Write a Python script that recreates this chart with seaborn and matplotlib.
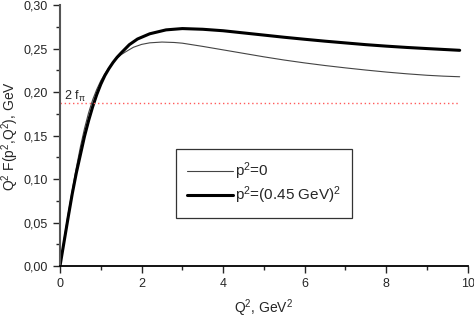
import pandas as pd
import matplotlib
matplotlib.use("Agg")
import matplotlib.pyplot as plt
import seaborn as sns
from matplotlib.ticker import MultipleLocator, FuncFormatter

# Q^2 F(p^2, Q^2) vs Q^2
q2_p0 = [0, 0.1, 0.2, 0.3, 0.4, 0.5, 0.6, 0.7, 0.8, 0.9, 1.0, 1.1, 1.2, 1.3,
         1.4, 1.5, 1.6, 1.8, 2.0, 2.2, 2.5, 2.8, 3.0, 3.5, 4.0, 4.5, 5.0,
         5.5, 6.0, 6.5, 7.0, 7.5, 8.0, 8.5, 9.0, 9.4, 9.8]
f_p0 = [0, 0.031, 0.060, 0.087, 0.113, 0.137, 0.158, 0.176, 0.191, 0.203,
        0.213, 0.221, 0.228, 0.234, 0.239, 0.243, 0.246, 0.2515, 0.2548,
        0.2566, 0.2575, 0.257, 0.2562, 0.2525, 0.2485, 0.2445, 0.2405,
        0.2368, 0.2335, 0.2305, 0.2278, 0.2253, 0.223, 0.221, 0.2193,
        0.2183, 0.2176]

q2_p045 = [0, 0.1, 0.2, 0.3, 0.4, 0.5, 0.6, 0.7, 0.8, 0.9, 1.0, 1.1, 1.2,
           1.3, 1.4, 1.5, 1.7, 1.9, 2.2, 2.6, 3.0, 3.5, 4.0, 4.5, 5.0, 5.5,
           6.0, 6.5, 7.0, 7.5, 8.0, 8.5, 9.0, 9.4, 9.8]
f_p045 = [0, 0.028, 0.056, 0.083, 0.107, 0.128, 0.149, 0.167, 0.183, 0.197,
          0.209, 0.219, 0.227, 0.234, 0.240, 0.245, 0.2545, 0.261, 0.267,
          0.2715, 0.273, 0.2722, 0.2705, 0.268, 0.2655, 0.263, 0.2607,
          0.2585, 0.2565, 0.2545, 0.2528, 0.2513, 0.250, 0.249, 0.248]

two_fpi = 0.1875
fpi_xmax = 9.75

sns.set_style("ticks")
plt.rcParams['font.family'] = ['Liberation Sans', 'DejaVu Sans']
plt.rcParams['mathtext.fontset'] = 'custom'
plt.rcParams['mathtext.rm'] = 'Liberation Sans'
plt.rcParams['mathtext.it'] = 'Liberation Sans'

fig = plt.figure(figsize=(4.74, 3.18), dpi=100)
ax = fig.add_axes([0.1266, 0.1635, 0.8604, 0.8205])

df0 = pd.DataFrame({'Q2': q2_p0, 'F': f_p0})
df1 = pd.DataFrame({'Q2': q2_p045, 'F': f_p045})
sns.lineplot(data=df0, x='Q2', y='F', ax=ax, color='#444444', lw=0.8,
             label=r'p$^2$=0')
sns.lineplot(data=df1, x='Q2', y='F', ax=ax, color='black', lw=2.2,
             label=r'p$^2$=(0.45 GeV)$^2$')
ax.hlines(two_fpi, 0, fpi_xmax, colors='#ff5a5a', linestyles=(0, (1, 2)), lw=1)
ax.text(0.1, two_fpi + 0.004, r'2 f$_\pi$', fontsize=9)

ax.set_xlim(0, 10)
ax.set_ylim(0, 0.30)
ax.xaxis.set_major_locator(MultipleLocator(2))
ax.xaxis.set_minor_locator(MultipleLocator(1))
ax.yaxis.set_major_locator(MultipleLocator(0.05))
ax.yaxis.set_minor_locator(MultipleLocator(0.025))
ax.yaxis.set_major_formatter(FuncFormatter(lambda v, p: f"{v:.2f}".replace('.', ',')))
ax.tick_params(which='major', length=5, width=1, labelsize=9, direction='out')
ax.tick_params(which='minor', length=3, width=1, direction='out')

sns.despine(ax=ax)
ax.spines['left'].set_linewidth(1.5)
ax.spines['left'].set_color('#555555')
ax.spines['bottom'].set_linewidth(1.3)
ax.spines['bottom'].set_color('black')

ax.set_xlabel(r'Q$^2$, GeV$^2$', fontsize=10)
ax.set_ylabel(r'Q$^2$ F(p$^2$,Q$^2$), GeV', fontsize=10)
ax.xaxis.set_label_coords(0.5, -0.12)
ax.yaxis.set_label_coords(-0.095, 0.5)

leg = ax.legend(loc='upper left', bbox_to_anchor=(0.284, 0.448), fontsize=11,
                frameon=True, fancybox=False, edgecolor='black',
                handlelength=3.0, borderpad=0.75, labelspacing=0.15,
                handletextpad=0.1, borderaxespad=0)
leg.get_frame().set_linewidth(0.9)

plt.savefig("out.png", dpi=100)
